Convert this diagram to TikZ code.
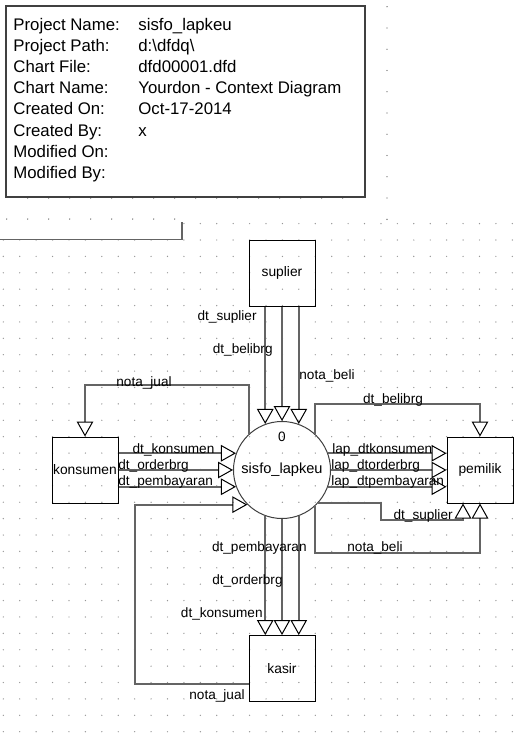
\documentclass[tikz,border=0pt]{standalone}
\usepackage{fontspec}
\setmainfont{Liberation Sans}
\usetikzlibrary{arrows.meta}
\definecolor{ln}{RGB}{100,100,100}
\definecolor{dotc}{RGB}{150,150,150}
\definecolor{dott}{RGB}{90,90,90}

\begin{document}
\begin{tikzpicture}[x=0.5pt,y=-0.5pt,
    ent/.style={draw=black,line width=0.5pt,minimum size=33pt,inner sep=0pt,
                font=\fontsize{6.9}{8}\selectfont},
    proc/.style={circle,draw=black!75,line width=0.5pt,minimum size=48.5pt,
                 inner sep=0pt,font=\fontsize{7.3}{8}\selectfont},
    lab/.style={inner sep=0pt,font=\fontsize{6.8}{8}\selectfont},
    info/.style={inner sep=0pt,anchor=base west,font=\fontsize{8.4}{10}\selectfont},
    flow/.style={draw=ln,line width=1pt,
                 -{Triangle[open,length=7.5pt,width=8.3pt,line width=0.5pt,color=black]}},
    pipe/.style={draw=ln,line width=1pt}]

    \useasboundingbox (0,0) rectangle (525,734);

    % dot grid
    \foreach \k in {0,...,10} \fill[dott] (387,6.7+21.26*\k) circle[radius=0.35pt];
    \foreach \k in {0,...,15} \fill[dott] (27.7+21*\k,198) circle[radius=0.35pt];
    \foreach \k in {0,...,8} \fill[dott] (6.7+21*\k,219) circle[radius=0.35pt];
    \foreach \i in {11,...,31} \fill[dotc] (3.3+16.42*\i,223.6) circle[radius=0.35pt];
    \foreach \i in {0,...,31}{
      \foreach \j in {0,...,30} \fill[dotc] (3.3+16.42*\i,240+16.39*\j) circle[radius=0.35pt];
    }

    % header box
    \node[draw=black!75,line width=0.6pt,minimum width=179.5pt,minimum height=95.5pt,
          inner sep=0pt] (hdr) at (185.5,101.5) {};
    \foreach \k/\a/\b in {0/Project Name:/sisfo\_lapkeu,
                          1/Project Path:/d:\textbackslash dfdq\textbackslash,
                          2/Chart File:/dfd00001.dfd,
                          3/Chart Name:/Yourdon - Context Diagram,
                          4/Created On:/Oct-17-2014,
                          5/Created By:/x,
                          6/Modified On:/,
                          7/Modified By:/}{
      \node[info] (hl\k) at (13,30.7+21.07*\k) {\a};
      \node[info] (hv\k) at (138,30.7+21.07*\k) {\b};
    }
    \draw[ln,line width=0.6pt] (0,239.3) -- (182,239.3) -- (182,222);

    % entities and process
    \node[ent]  (sup) at (282,273)   {suplier};
    \node[ent]  (kon) at (85,470)    {konsumen};
    \node[ent]  (pem) at (480,470)   {pemilik};
    \node[ent]  (kas) at (282,668.5) {kasir};
    \node[proc] (p0)  at (282,470)   {sisfo\_lapkeu};
    \node[lab]  (nol) at (282,437)   {0};

    % suplier -> sisfo
    \draw[flow] (p0.110 |- sup.south) -- (p0.110);
    \draw[flow] (sup) -- (p0);
    \draw[flow] (p0.70 |- sup.south) -- (p0.70);
    \node[lab,anchor=mid east] (l1) at (257,315) {dt\_suplier};
    \node[lab,anchor=mid east] (l2) at (273,348) {dt\_belibrg};
    \node[lab,anchor=mid west] (l3) at (299,374) {nota\_beli};

    % konsumen <-> sisfo
    \draw[flow] (p0.133) -- ++(0,-49.5) -| (kon.north);
    \node[lab,anchor=mid] (l4) at (144,381) {nota\_jual};
    \draw[flow] (kon.east |- p0.160) -- (p0.160);
    \draw[flow] (kon) -- (p0);
    \draw[flow] (kon.east |- p0.200) -- (p0.200);
    \node[lab,anchor=mid] (l5) at (173.5,448) {dt\_konsumen};
    \node[lab,anchor=mid west] (l6) at (118,464) {dt\_orderbrg};
    \node[lab,anchor=mid west] (l7) at (118,480) {dt\_pembayaran};

    % sisfo -> pemilik
    \draw[flow] (p0.47) -- ++(0,-30.5) -| (pem.north);
    \node[lab,anchor=mid] (l8) at (393,398) {dt\_belibrg};
    \draw[flow] (p0.20) -- (p0.20 -| pem.west);
    \draw[flow] (p0) -- (pem);
    \draw[flow] (p0.340) -- (p0.340 -| pem.west);
    \node[lab,anchor=mid west] (l9) at (332,448) {lap\_dtkonsumen};
    \node[lab,anchor=mid west] (l10) at (331,464) {lap\_dtorderbrg};
    \node[lab,anchor=mid west] (l11) at (331,480) {lap\_dtpembayaran};
    \coordinate (ds1) at (381,520);
    \coordinate (ds2) at (463,520);
    \draw[flow] (p0.317) -| (ds1) -- (ds2) -- (ds2 |- pem.south);
    \node[lab,anchor=mid east] (l12) at (453,514) {dt\_suplier};
    \coordinate (nb) at (480,552.5);
    \draw[flow] (p0.313) |- (nb) -- (pem.south);
    \node[lab,anchor=mid] (l13) at (375,546) {nota\_beli};

    % sisfo -> kasir
    \draw[flow] (p0.250) -- (p0.250 |- kas.north);
    \draw[flow] (p0) -- (kas);
    \draw[flow] (p0.290) -- (p0.290 |- kas.north);
    \node[lab,anchor=mid east] (l14) at (307,546) {dt\_pembayaran};
    \node[lab,anchor=mid east] (l15) at (283,579) {dt\_orderbrg};
    \node[lab,anchor=mid east] (l16) at (263,612) {dt\_konsumen};
    \coordinate (nj) at (135,684.3);
    \draw[flow] (kas.west |- nj) -- (nj) |- (p0.225);
    \node[lab,anchor=mid east] (l17) at (245,694) {nota\_jual};
  \end{tikzpicture}
\end{document}
